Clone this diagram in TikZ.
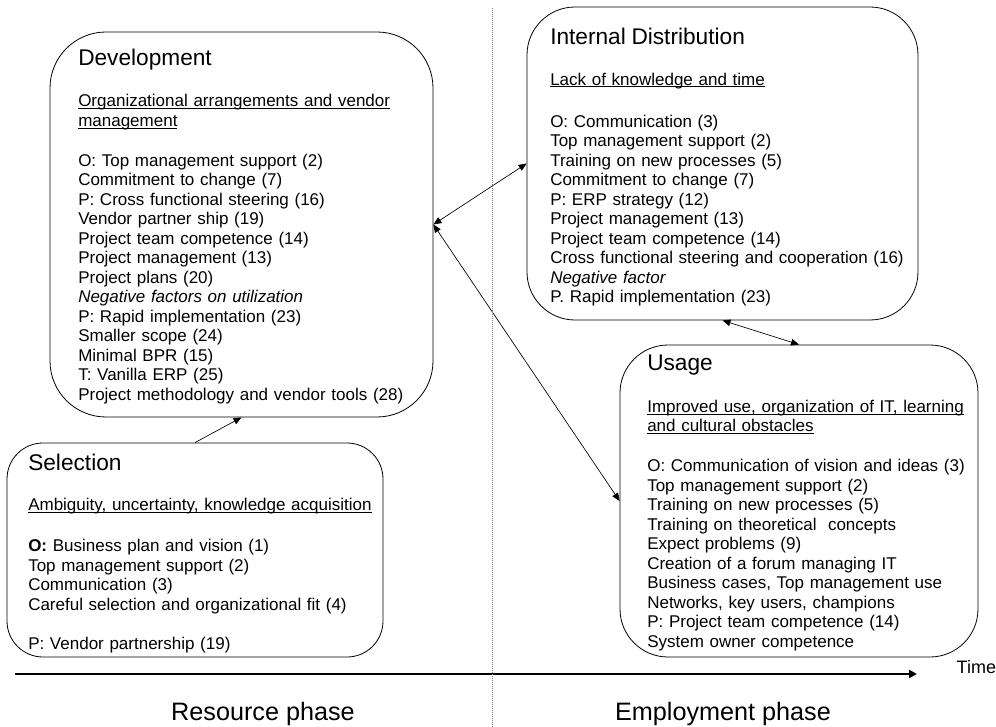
\documentclass[tikz,border=0pt]{standalone}
\usepackage{fontspec}
\setmainfont{Liberation Sans}
\usetikzlibrary{positioning,arrows.meta,fit}
\newsavebox{\ulbox}
\newcommand{\stageul}[1]{\leavevmode\sbox{\ulbox}{#1}\rlap{\rule[-1.7pt]{\wd\ulbox}{0.6pt}}\usebox{\ulbox}}
\newcommand{\stagetitle}[1]{{\fontsize{17}{20}\selectfont #1}}

\begin{document}
\begin{tikzpicture}[x=0.75pt, y=-0.75pt, font=\fontsize{12.75}{14.625}\selectfont,
  stagebox/.style={draw, inner sep=0pt, line width=0.6pt},
  txt/.style={anchor=base west, align=left, text width=300pt, inner sep=0pt},
  arr/.style={-{Triangle[length=6pt, width=5pt]}, line width=0.5pt},
  dblarr/.style={{Triangle[length=6pt, width=5pt]}-{Triangle[length=6pt, width=5pt]}, line width=0.5pt},
  phaselabel/.style={font=\fontsize{18.9}{22}\selectfont, anchor=base}]
\useasboundingbox (0,0) rectangle (996,727);
% the four stages
\node[stagebox, rounded corners=42pt, fit={(50,32) (433,417)}] (dev) {};
\node[stagebox, rounded corners=27pt, fit={(7,443) (383,657)}] (sel) {};
\node[stagebox, rounded corners=36pt, fit={(527,7) (918,320)}] (dist) {};
\node[stagebox, rounded corners=36pt, fit={(620,345) (978,657)}] (use) {};
\node[txt] (devtxt) at (78,66) {\stagetitle{Development}\\[16.1pt]
  \stageul{Organizational arrangements and vendor}\\
  \stageul{management}\\[15.4pt]
  O: Top management support (2)\\
  Commitment to change (7)\\
  P: Cross functional steering (16)\\
  Vendor partner ship (19)\\
  Project team competence (14)\\
  Project management (13)\\
  Project plans (20)\\
  \textit{Negative factors on utilization}\\
  P: Rapid implementation (23)\\
  Smaller scope (24)\\
  Minimal BPR (15)\\
  T: Vanilla ERP (25)\\
  Project methodology and vendor tools (28)};
\node[txt] (seltxt) at (28,470) {\stagetitle{Selection}\\[16.1pt]
  \stageul{Ambiguity, uncertainty, knowledge acquisition}\\[16.1pt]
  \textbf{O:} Business plan and vision (1)\\
  Top management support (2)\\
  Communication (3)\\
  Careful selection and organizational fit (4)\\[14.625pt]
  P: Vendor partnership (19)};
\node[txt] (disttxt) at (550,45) {\stagetitle{Internal Distribution}\\[15.4pt]
  \stageul{Lack of knowledge and time}\\[16.9pt]
  O: Communication (3)\\
  Top management support (2)\\
  Training on new processes (5)\\
  Commitment to change (7)\\
  P: ERP strategy (12)\\
  Project management (13)\\
  Project team competence (14)\\
  Cross functional steering and cooperation (16)\\
  \textit{Negative factor}\\
  P. Rapid implementation (23)};
\node[txt] (usetxt) at (647,370) {\stagetitle{Usage}\\[16.9pt]
  \stageul{Improved use, organization of IT, learning}\\
  \stageul{and cultural obstacles}\\[15.4pt]
  O: Communication of vision and ideas (3)\\
  Top management support (2)\\
  Training on new processes (5)\\
  Training on theoretical\ \ concepts\\
  Expect problems (9)\\
  Creation of a forum managing IT\\
  Business cases, Top management use\\
  Networks, key users, champions\\
  P: Project team competence (14)\\
  System owner competence};
% links between stages
\draw[arr] (sel.north) -- (dev.south);
\draw[dblarr] (dev.east) -- (dist.west);
\draw[dblarr] (dev.east) -- (use.west);
\draw[dblarr] (dist.south) -- (use.north);
% time axis and phases
\coordinate (t0) at (15,674);
\coordinate (t1) at (917,674);
\draw[line width=1.5pt, -{Triangle[length=6pt, width=6pt]}] (t0) -- (t1);
\node[anchor=base west, font=\fontsize{13.5}{16}\selectfont] (time) at (952,673) {Time};
\coordinate (sep0) at (492,8);
\coordinate (sep1) at (492,727);
\draw[gray, densely dotted, line width=0.5pt] (sep0) -- (sep1);
\node[phaselabel] (res) at (263,720) {Resource phase};
\node[phaselabel] (emp) at (723,720) {Employment phase};
\end{tikzpicture}
\end{document}
